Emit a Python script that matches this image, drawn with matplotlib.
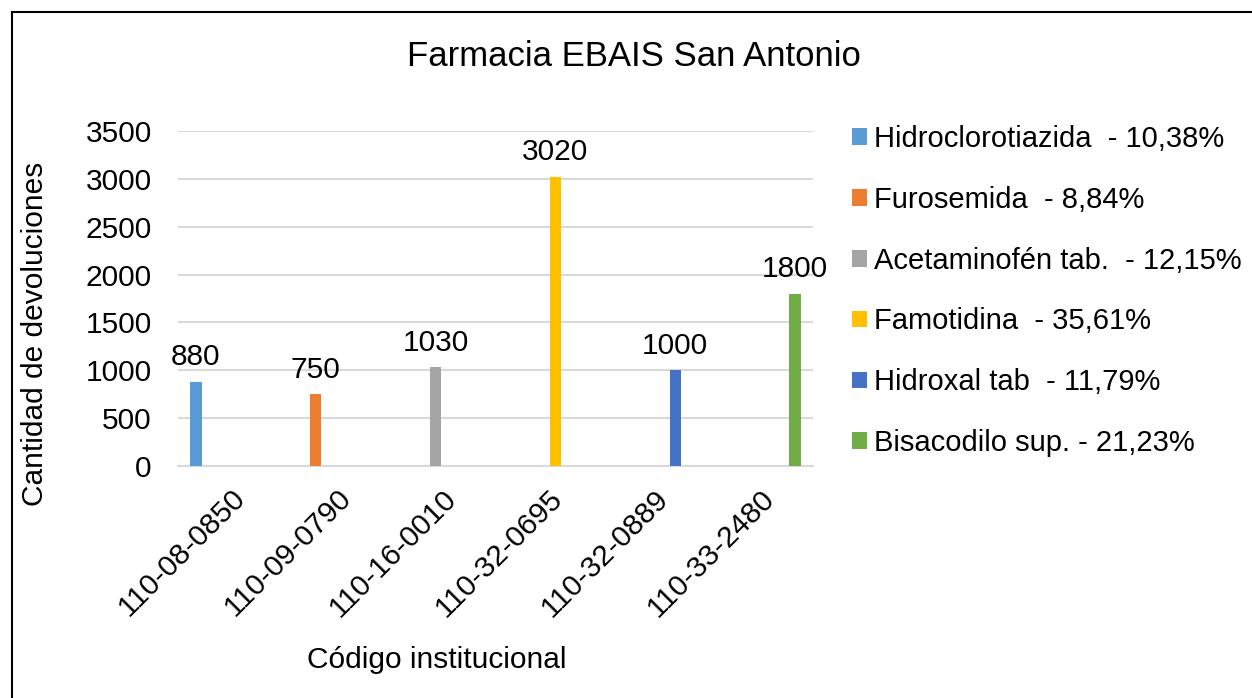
import matplotlib
matplotlib.use("Agg")
import matplotlib.pyplot as plt
from matplotlib.lines import Line2D
import numpy as np

plt.rcParams['font.family'] = ['Liberation Sans', 'DejaVu Sans']

categories = ["110-08-0850", "110-09-0790", "110-16-0010", "110-32-0695", "110-32-0889", "110-33-2480"]
series_names = ["Hidroclorotiazida  - 10,38%", "Furosemida  - 8,84%", "Acetaminofén tab.  - 12,15%",
                "Famotidina  - 35,61%", "Hidroxal tab  - 11,79%", "Bisacodilo sup. - 21,23%"]
values = [880, 750, 1030, 3020, 1000, 1800]
colors = ["#5B9BD5", "#ED7D31", "#A5A5A5", "#FFC000", "#4472C4", "#70AD47"]
yticks = [0, 500, 1000, 1500, 2000, 2500, 3000, 3500]

FS = 21.5
W, H = 1252, 698
fig = plt.figure(figsize=(W / 100, H / 100), dpi=100)
ax = fig.add_axes([178 / W, 1 - 466 / H, (813 - 178) / W, (466 - 131) / H])

n = len(categories)
x = np.arange(n)
slot = 14 / 105.8
bw = 11.5 / 105.8
handles = []
for i, (name, v, c) in enumerate(zip(series_names, values, colors)):
    xpos = x[i] + (i - 2.5) * slot
    b = ax.bar(xpos, v, width=bw, color=c, label=name, zorder=3)
    handles.append(b)
    ax.annotate(str(v), (xpos, v), xytext=(0, 12), textcoords='offset points',
                ha='center', va='baseline', fontsize=FS, color='#000000')

ax.set_xlim(-0.5, n - 0.5)
ax.set_ylim(0, 3500)
ax.set_yticks(yticks)
ax.set_yticklabels([str(t) for t in yticks], fontsize=FS)
ax.set_xticks(x)
ax.set_xticklabels(categories, fontsize=FS, rotation=45, ha='right', rotation_mode='anchor')
ax.tick_params(axis='both', length=0)
ax.tick_params(axis='y', pad=19)
ax.tick_params(axis='x', pad=13)
ax.grid(axis='y', color='#D9D9D9', linewidth=1.5, zorder=0)
for s in ['top', 'right', 'left']:
    ax.spines[s].set_visible(False)
ax.spines['bottom'].set_color('#D9D9D9')
ax.spines['bottom'].set_linewidth(1.5)

fig.text(634 / W, 1 - 56 / H, "Farmacia EBAIS San Antonio", fontsize=25, ha='center', va='center')
fig.text(35 / W, 1 - 334 / H, "Cantidad de devoluciones", fontsize=FS, rotation=90, ha='center', va='center')
fig.text(437 / W, 1 - 660 / H, "Código institucional", fontsize=FS, ha='center', va='center')

leg = ax.legend(handles=handles, loc='upper left', bbox_to_anchor=(852 / W, 1 - 125 / H),
                bbox_transform=fig.transFigure, frameon=False, fontsize=21,
                handlelength=0.5, handleheight=0.5, handletextpad=0.25,
                labelspacing=1.125, borderaxespad=0, borderpad=0)

# figure border (left and top)
fig.add_artist(Line2D([12 / W, 12 / W], [0, 1 - 12 / H], transform=fig.transFigure, color='black', linewidth=1.5))
fig.add_artist(Line2D([12 / W, 1], [1 - 12 / H, 1 - 12 / H], transform=fig.transFigure, color='black', linewidth=1.5))

fig.savefig("out.png", dpi=100)
